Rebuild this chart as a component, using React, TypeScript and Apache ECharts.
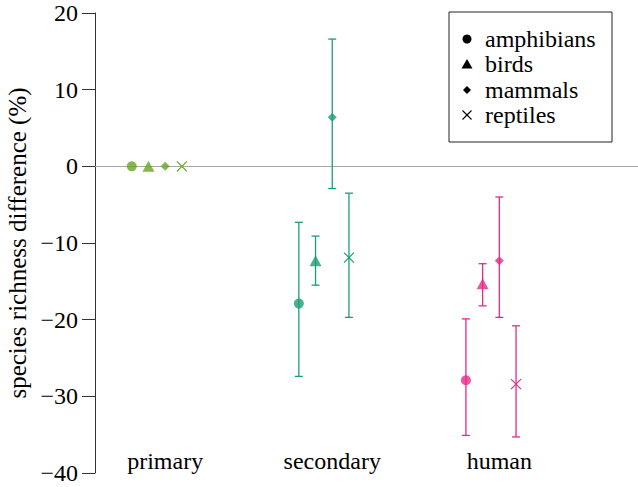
import React, { useEffect, useRef } from 'react';
import * as echarts from 'echarts';

const categories = ['primary', 'secondary', 'human'];
const speciesNames = ['amphibians', 'birds', 'mammals', 'reptiles'];

const amphibiansMean = [0, -17.9, -27.9];
const amphibiansLow = [0, -27.4, -35.1];
const amphibiansHigh = [0, -7.3, -19.9];

const birdsMean = [0, -12.3, -15.3];
const birdsLow = [0, -15.5, -18.2];
const birdsHigh = [0, -9.1, -12.7];

const mammalsMean = [0, 6.4, -12.3];
const mammalsLow = [0, -2.9, -19.7];
const mammalsHigh = [0, 16.6, -4.0];

const reptilesMean = [0, -11.9, -28.4];
const reptilesLow = [0, -19.7, -35.3];
const reptilesHigh = [0, -3.5, -20.8];

const yTickValues = [-40, -30, -20, -10, 0, 10, 20];

const categoryColors = ['#66a61e', '#1b9e77', '#e7298a'];
const speciesOffsets = [-0.2, -0.1, 0, 0.1];
const FONT = 'Liberation Serif';

const speciesData = [
  { mean: amphibiansMean, low: amphibiansLow, high: amphibiansHigh },
  { mean: birdsMean, low: birdsLow, high: birdsHigh },
  { mean: mammalsMean, low: mammalsLow, high: mammalsHigh },
  { mean: reptilesMean, low: reptilesLow, high: reptilesHigh },
];

function errorSeries(sIdx: number) {
  const d = speciesData[sIdx];
  const data: any[] = [];
  categories.forEach((_, i) => {
    if (d.low[i] !== d.high[i]) {
      data.push({ value: [i + 1 + speciesOffsets[sIdx], d.low[i], d.high[i], i] });
    }
  });
  const s: any = {
    type: 'custom',
    name: speciesNames[sIdx] + ' error',
    z: 2,
    silent: true,
    data,
    renderItem: (params: any, api: any) => {
      const x = api.value(0);
      const lo = api.coord([x, api.value(1)]);
      const hi = api.coord([x, api.value(2)]);
      const color = categoryColors[api.value(3)];
      const cap = 4;
      const style = { stroke: color, lineWidth: 1.3 };
      return {
        type: 'group',
        children: [
          { type: 'line', shape: { x1: lo[0], y1: lo[1], x2: hi[0], y2: hi[1] }, style },
          { type: 'line', shape: { x1: lo[0] - cap, y1: lo[1], x2: lo[0] + cap, y2: lo[1] }, style },
          { type: 'line', shape: { x1: hi[0] - cap, y1: hi[1], x2: hi[0] + cap, y2: hi[1] }, style },
        ],
      };
    },
  };
  if (sIdx === 0) {
    s.markLine = {
      silent: true,
      symbol: ['none', 'none'],
      label: { show: false },
      lineStyle: { color: '#a8a8a8', width: 1, type: 'solid' },
      data: [{ yAxis: 0 }],
      z: 1,
    };
  }
  return s;
}

const symbolDefs: any[] = [
  { symbol: 'circle', size: 10 },
  { symbol: 'triangle', size: [12, 11] },
  { symbol: 'diamond', size: [9, 9] },
];

function markerSeries(sIdx: number) {
  const d = speciesData[sIdx];
  if (sIdx < 3) {
    return {
      type: 'scatter',
      name: speciesNames[sIdx],
      symbol: symbolDefs[sIdx].symbol,
      symbolSize: symbolDefs[sIdx].size,
      z: 3,
      data: d.mean.map((v, i) => ({
        value: [i + 1 + speciesOffsets[sIdx], v],
        itemStyle: { color: categoryColors[i] },
      })),
    };
  }
  return {
    type: 'custom',
    name: speciesNames[sIdx],
    z: 3,
    data: d.mean.map((v, i) => ({ value: [i + 1 + speciesOffsets[sIdx], v, i] })),
    renderItem: (params: any, api: any) => {
      const p = api.coord([api.value(0), api.value(1)]);
      const color = categoryColors[api.value(2)];
      const h = 5;
      const style = { stroke: color, lineWidth: 1.2 };
      return {
        type: 'group',
        children: [
          { type: 'line', shape: { x1: p[0] - h, y1: p[1] - h, x2: p[0] + h, y2: p[1] + h }, style },
          { type: 'line', shape: { x1: p[0] - h, y1: p[1] + h, x2: p[0] + h, y2: p[1] - h }, style },
        ],
      };
    },
  };
}

function legendGraphic() {
  const left = 449;
  const top = 12;
  const w = 163;
  const h = 130;
  const ys = [39, 64, 90, 115];
  const sx = 467;
  const tx = 485;
  const children: any[] = [
    { type: 'rect', shape: { x: left, y: top, width: w, height: h }, style: { fill: '#fff', stroke: '#222', lineWidth: 1 } },
  ];
  const black = '#000';
  children.push({ type: 'circle', shape: { cx: sx, cy: ys[0], r: 4.5 }, style: { fill: black } });
  children.push({ type: 'polygon', shape: { points: [[sx - 5.5, ys[1] + 4.5], [sx + 5.5, ys[1] + 4.5], [sx, ys[1] - 5]] }, style: { fill: black } });
  children.push({ type: 'polygon', shape: { points: [[sx, ys[2] - 4], [sx + 4, ys[2]], [sx, ys[2] + 4], [sx - 4, ys[2]]] }, style: { fill: black } });
  children.push({ type: 'line', shape: { x1: sx - 4.5, y1: ys[3] - 4.5, x2: sx + 4.5, y2: ys[3] + 4.5 }, style: { stroke: black, lineWidth: 1.1 } });
  children.push({ type: 'line', shape: { x1: sx - 4.5, y1: ys[3] + 4.5, x2: sx + 4.5, y2: ys[3] - 4.5 }, style: { stroke: black, lineWidth: 1.1 } });
  speciesNames.forEach((n, i) => {
    children.push({
      type: 'text',
      x: tx,
      y: ys[i],
      style: { text: n, fill: '#000', fontFamily: FONT, fontSize: 24, verticalAlign: 'middle', align: 'left' },
    });
  });
  return [{ type: 'group', id: 'legend', z: 10, children }];
}

const fontCss = `#chart-root svg text { font-family: "Liberation Serif", "Times New Roman", serif !important; }`;

export default function App() {
  const ref = useRef<HTMLDivElement>(null);
  useEffect(() => {
    document.body.style.margin = '0';
    if (!ref.current) return;
    const chart = echarts.init(ref.current, undefined, { renderer: 'svg' });
    const series: any[] = [];
    for (let s = 0; s < 4; s++) series.push(errorSeries(s));
    for (let s = 0; s < 4; s++) series.push(markerSeries(s));
    chart.setOption({
      animation: false,
      backgroundColor: '#fff',
      textStyle: { fontFamily: FONT },
      grid: { left: 95, right: 0, top: 13, bottom: 14, containLabel: false, outerBoundsMode: 'none' },
      xAxis: {
        type: 'value',
        min: 0.58,
        max: 3.83,
        interval: 0.01,
        offset: -32,
        axisLine: { show: false },
        axisTick: { show: false },
        splitLine: { show: false },
        axisLabel: {
          customValues: [1, 2, 3],
          formatter: (v: number) => categories[Math.round(v) - 1] ?? '',
          fontFamily: FONT,
          fontSize: 24,
          color: '#000',
          margin: 8,
        },
      },
      yAxis: {
        type: 'value',
        min: -40,
        max: 20,
        interval: 10,
        name: 'species richness difference (%)',
        nameLocation: 'middle',
        nameGap: 62,
        nameRotate: 90,
        nameTextStyle: { fontFamily: FONT, fontSize: 25, color: '#000' },
        axisLine: { show: true, lineStyle: { color: '#333', width: 1 } },
        axisTick: { show: true, inside: false, length: 13, lineStyle: { color: '#333', width: 1 } },
        splitLine: { show: false },
        axisLabel: {
          customValues: yTickValues,
          formatter: (v: number) => String(v).replace('-', '\u2212'),
          fontFamily: FONT,
          fontSize: 24,
          color: '#000',
          margin: 17,
        },
      },
      graphic: legendGraphic(),
      series,
    });
    return () => {
      chart.dispose();
    };
  }, []);
  return (
    <>
      <style>{fontCss}</style>
      <div id="chart-root" ref={ref} style={{ position: 'absolute', left: 0, top: 0, width: 638, height: 487 }} />
    </>
  );
}
